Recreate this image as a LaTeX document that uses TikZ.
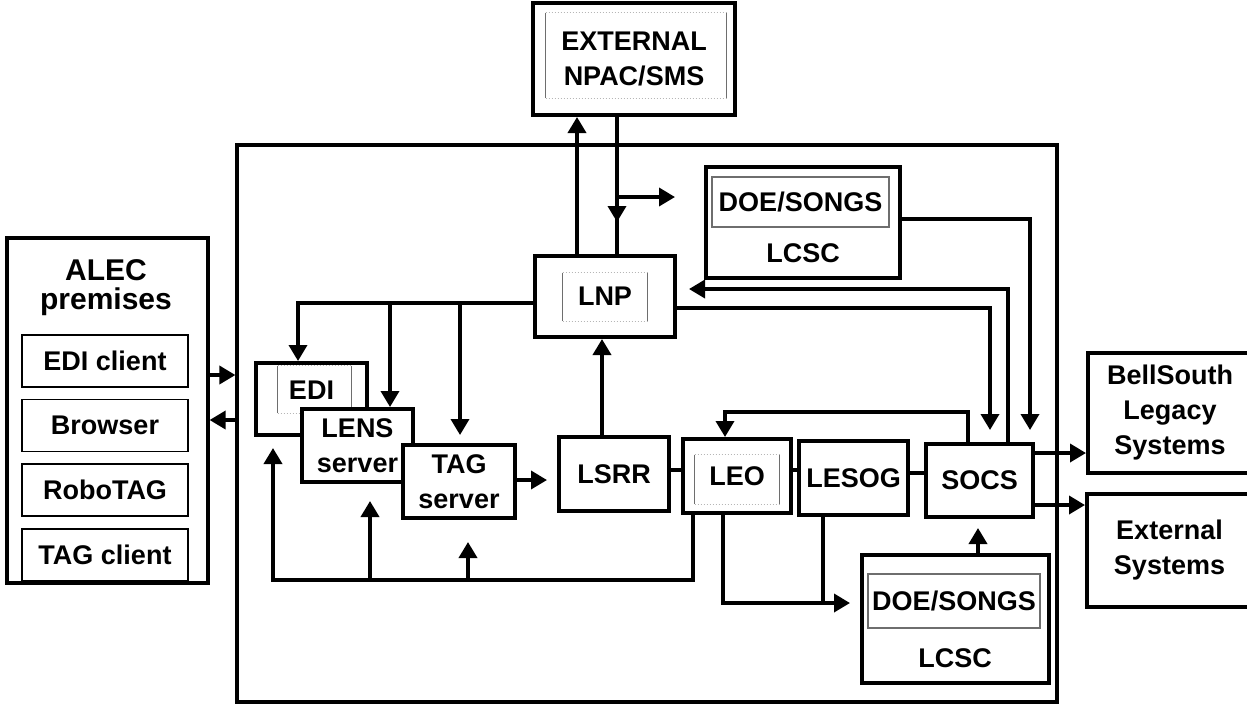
\documentclass[tikz,border=0pt]{standalone}
\usepackage{fontspec}
\setmainfont{Liberation Sans}
\usepackage{tikz}
\usetikzlibrary{arrows.meta,positioning}
\definecolor{ink}{RGB}{0,0,0}
\definecolor{framegray}{RGB}{110,110,110}
\newcommand{\sidebars}[1]{%
  \draw[sidebar] (#1.north west) -- (#1.south west) (#1.north east) -- (#1.south east);
  \draw[dotrule] (#1.north west) -- (#1.north east) (#1.south west) -- (#1.south east);}

\begin{document}
\begin{tikzpicture}[
  x=0.5pt, y=-0.5pt,
  node distance=5.5pt,
  lbl/.style={font=\bfseries\fontsize{13.5}{17.5}\selectfont,align=center},
  box/.style={rectangle,draw=ink,line width=2pt,fill=white,inner sep=0pt,lbl},
  thinbox/.style={rectangle,draw=framegray,line width=0.6pt,inner sep=0pt,lbl},
  clientbox/.style={rectangle,draw=ink,line width=0.8pt,minimum width=83pt,
                    minimum height=26pt,inner sep=0pt,lbl},
  innerframe/.style={rectangle,inner sep=0pt},
  sidebar/.style={draw=framegray,line width=0.6pt},
  dotrule/.style={draw=framegray!50,line width=0.5pt,densely dotted},
  conn/.style={draw=ink,line width=1.8pt},
  arrow/.style={conn,-{Triangle[length=8pt,width=9pt]}}
]
\useasboundingbox (0,0) rectangle (1247,709);
\node[box,line width=1.6pt,minimum width=410pt,minimum height=278.5pt] (core) at (647,423.5) {};

% ALEC side
\node[box,line width=1.6pt,minimum width=100.5pt,minimum height=172.5pt] (alec) at (107.5,410.5) {};
\node[lbl,font=\bfseries\fontsize{15}{14.5}\selectfont] (alectitle) at (106,288) {ALEC\\premises};
\node[clientbox] (ediclient) at (105,361) {EDI client};
\node[clientbox,below=of ediclient] (browser) {Browser};
\node[clientbox,below=of browser] (robotag) {RoboTAG};
\node[clientbox,below=of robotag] (tagclient) {TAG client};

% NPAC and LNP
\node[box,minimum width=101pt,minimum height=56pt] (npac) at (634,59) {EXTERNAL\\NPAC/SMS};
\node[innerframe,minimum width=90pt,minimum height=42.5pt] (npacin) at (636,55.5) {};
\sidebars{npacin}
\node[box,minimum width=70pt,minimum height=40.5pt] (lnp) at (605,296.5) {LNP};
\node[innerframe,minimum width=42pt,minimum height=24pt] (lnpin) at (605,297) {};
\sidebars{lnpin}

% LCSC boxes
\node[box,minimum width=97pt,minimum height=55.5pt] (lcsctop) at (803,222.5) {};
\node[thinbox,minimum width=88.5pt,minimum height=25pt] (songstop) at (800.5,202) {DOE/SONGS};
\node[lbl] (lcsctoplbl) at (803,253) {LCSC};
\node[box,minimum width=93.5pt,minimum height=64pt] (lcscbot) at (955.5,619) {};
\node[thinbox,minimum width=86pt,minimum height=27pt] (songsbot) at (954,601) {DOE/SONGS};
\node[lbl] (lcscbotlbl) at (955,658) {LCSC};

% front ends
\node[box,minimum width=55.5pt,minimum height=36pt,text depth=9pt] (edi) at (311.5,399) {EDI};
\node[innerframe,minimum width=36.5pt,minimum height=23.5pt] (ediin) at (314.5,389.5) {};
\sidebars{ediin}
\node[box,minimum width=55.5pt,minimum height=36.5pt] (lens) at (357.5,445.5) {LENS\\server};
\node[box,minimum width=56pt,minimum height=36.5pt] (tag) at (459,481.5) {TAG\\server};

% order chain
\node[box,minimum width=55pt,minimum height=37pt] (lsrr) at (614,474) {LSRR};
\node[box,minimum width=54pt,minimum height=37pt] (leo) at (737,476) {LEO};
\node[innerframe,minimum width=42pt,minimum height=24.5pt] (leoin) at (737,479.5) {};
\sidebars{leoin}
\node[box,minimum width=54.5pt,minimum height=37pt] (lesog) at (853.5,478) {LESOG};
\node[box,minimum width=53.5pt,minimum height=36.5pt] (socs) at (979.5,480.5) {SOCS};

% outside systems
\node[box,minimum width=82pt,minimum height=60pt] (bellsouth) at (1170,413) {BellSouth\\Legacy\\Systems};
\node[box,minimum width=82.5pt,minimum height=56.5pt] (external) at (1169.5,550.5) {External\\Systems};

% NPAC links
\draw[arrow] (lnp.north -| 577,0) -- (npac.south -| 577,0);
\draw[conn] (npac.south -| 617,0) -- (lnp.north -| 617,0);
\coordinate (npacdown) at (617,222);
\draw[arrow] (npac.south -| 617,0) -- (npacdown);
\coordinate (npacfork) at (617,197);
\coordinate (npacout) at (675,197);
\draw[arrow] (npacfork) -- (npacout);

% LNP to front ends
\coordinate (lensfork) at (390,303);
\coordinate (tagfork) at (460,303);
\draw[arrow] (lnp.west |- 0,303) -| (edi.north -| 298,0);
\draw[arrow] (lensfork) -- (lens.north -| 390,0);
\draw[arrow,shorten >=4pt] (tagfork) -- (tag.north -| 460,0);

% chain
\draw[arrow,shorten >=5pt] (tag.east |- 0,480) -- (lsrr.west |- 0,480);
\draw[arrow] (lsrr.north -| 602,0) -- (lnp.south -| 602,0);
\draw[conn] (lsrr.east |- 0,470) -- (leo.west |- 0,470);
\draw[conn] (leo.east |- 0,470) -- (lesog.west |- 0,470);
\draw[conn] (lesog.east |- 0,473) -- (socs.west |- 0,473);

% SOCS links
\draw[arrow] (socs.north -| 968,0) |- (725,412) -- (leo.north -| 725,0);
\draw[arrow,shorten >=6pt] (lnp.east |- 0,308) -| (socs.north -| 990,0);
\draw[arrow,shorten >=6pt] (socs.north -| 1008,0) |- (lnp.east |- 0,289);
\draw[arrow,shorten >=6pt] (lcsctop.east |- 0,219) -| (socs.north -| 1030,0);
\draw[arrow,shorten >=4.5pt] (lcscbot.north -| 978,0) -- (socs.south -| 978,0);
\draw[arrow] (socs.east |- 0,453) -- (bellsouth.west |- 0,453);
\draw[arrow] (socs.east |- 0,505) -- (external.west |- 0,505);

% back from LEO
\coordinate (lesogdrop) at (823,603);
\draw[arrow,shorten >=5pt] (leo.south -| 723,0) |- (lcscbot.west |- 0,603);
\draw[conn] (lesog.south -| 823,0) -- (lesogdrop);
\coordinate (lensrise) at (370,580);
\coordinate (tagrise) at (468,580);
\draw[arrow,shorten >=5.5pt] (leo.south -| 693,0) |- (273,580) -- (edi.south -| 273,0);
\draw[arrow,shorten >=8.5pt] (lensrise) -- (lens.south -| 370,0);
\draw[arrow,shorten >=11pt] (tagrise) -- (tag.south -| 468,0);

% ALEC links
\draw[arrow] (alec.east |- 0,375) -- (core.west |- 0,375);
\draw[arrow] (core.west |- 0,420) -- (alec.east |- 0,420);
\end{tikzpicture}
\end{document}
